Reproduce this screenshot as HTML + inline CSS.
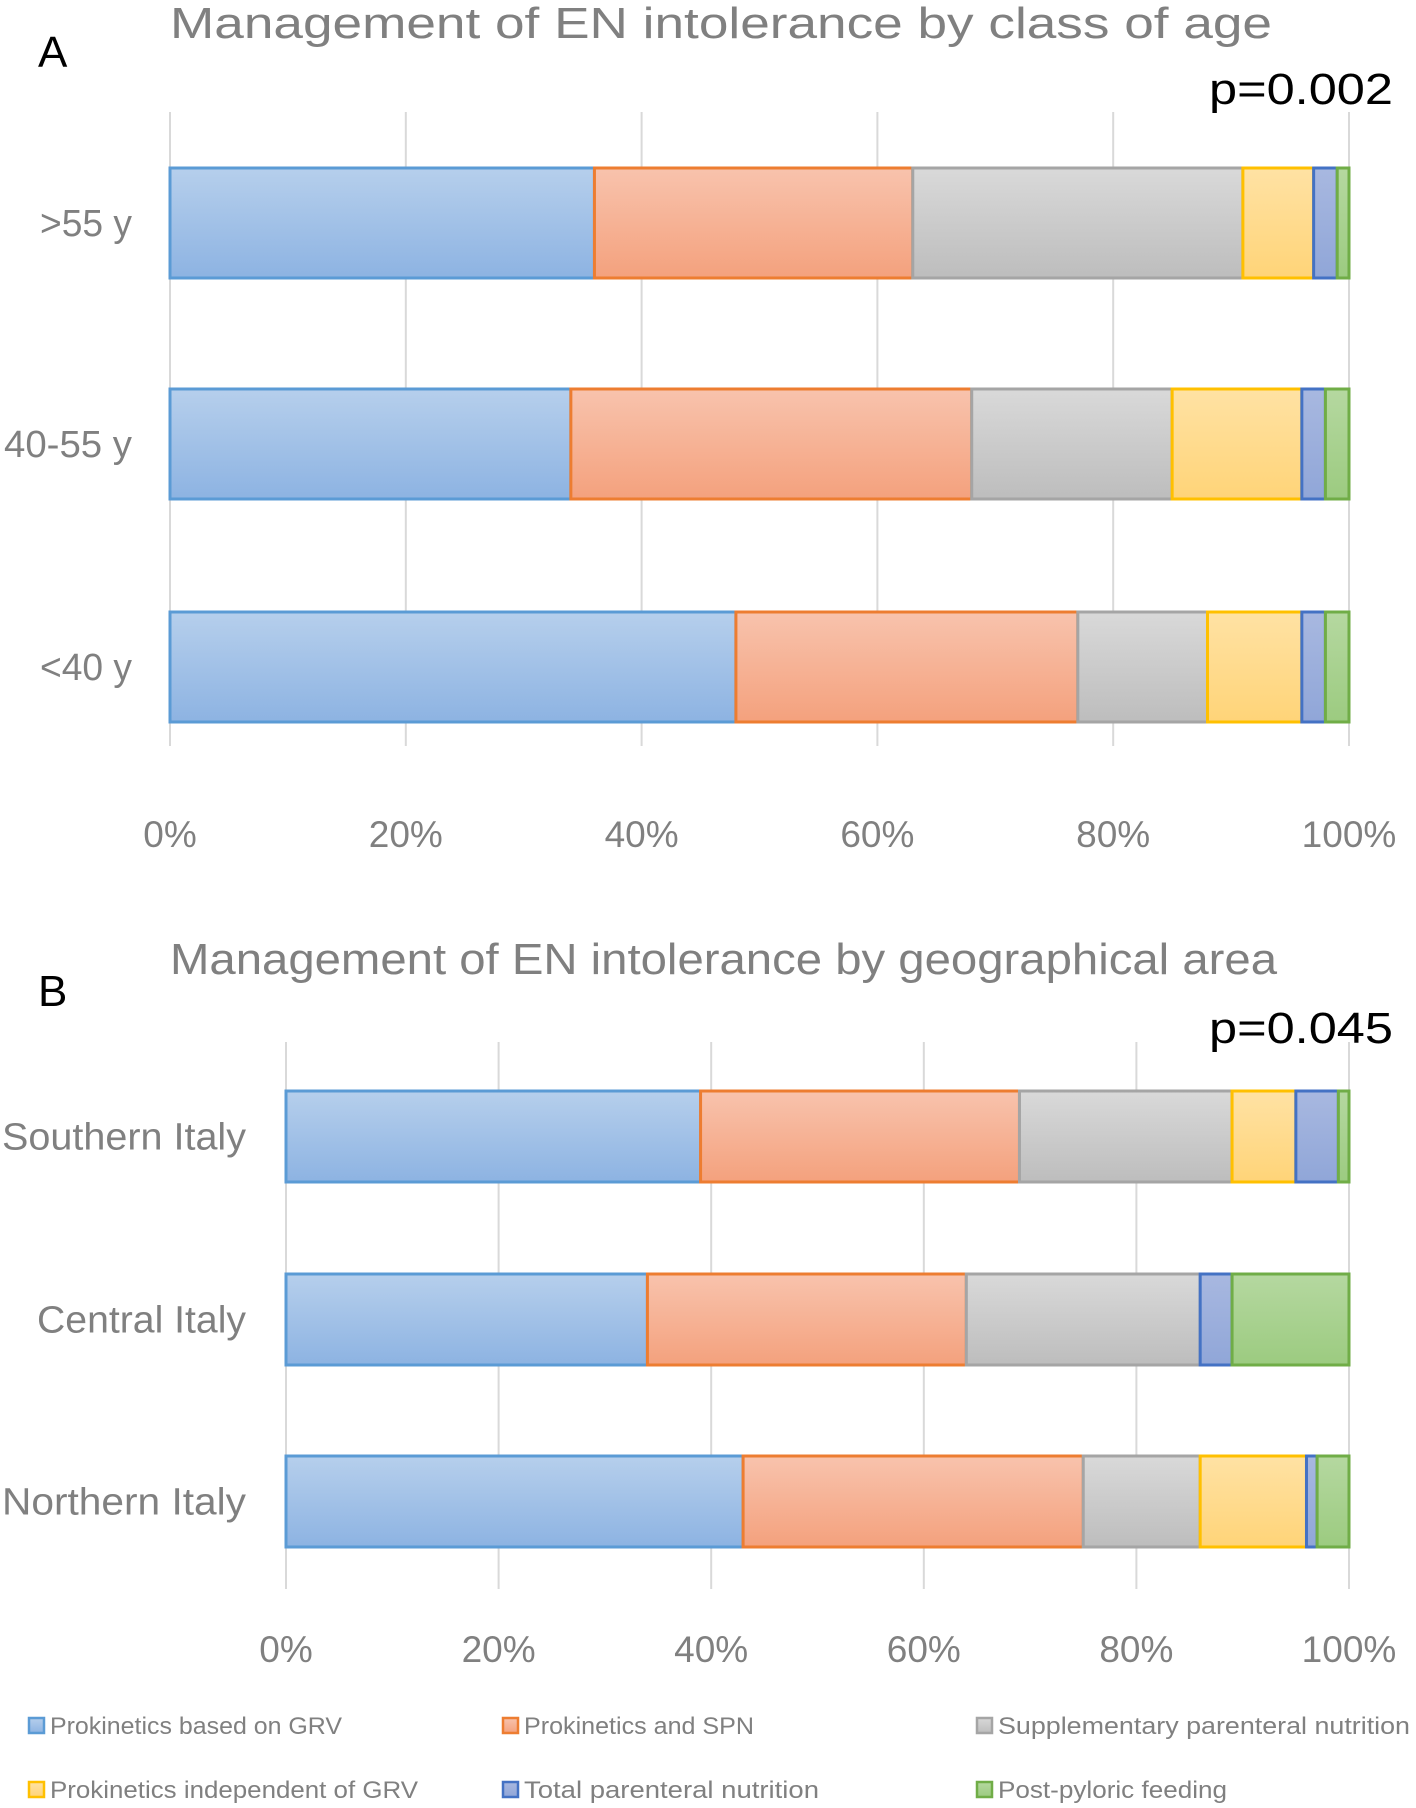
<!DOCTYPE html>
<html><head><meta charset="utf-8"><style>
html,body{margin:0;padding:0;background:#fff}
svg{display:block}
text{font-family:"Liberation Sans",sans-serif}
</style></head><body>
<svg id="chart" width="1416" height="1808" viewBox="0 0 1416 1808" xmlns="http://www.w3.org/2000/svg">
<defs>
<linearGradient id="g0" x1="0" y1="0" x2="0" y2="1"><stop offset="0" stop-color="#b6cfec"/><stop offset="1" stop-color="#8db3e2"/></linearGradient>
<linearGradient id="g1" x1="0" y1="0" x2="0" y2="1"><stop offset="0" stop-color="#f8c3ad"/><stop offset="1" stop-color="#f4a17d"/></linearGradient>
<linearGradient id="g2" x1="0" y1="0" x2="0" y2="1"><stop offset="0" stop-color="#d9d9d9"/><stop offset="1" stop-color="#bdbdbd"/></linearGradient>
<linearGradient id="g3" x1="0" y1="0" x2="0" y2="1"><stop offset="0" stop-color="#ffe2a4"/><stop offset="1" stop-color="#ffd478"/></linearGradient>
<linearGradient id="g4" x1="0" y1="0" x2="0" y2="1"><stop offset="0" stop-color="#a8b8e0"/><stop offset="1" stop-color="#90a6d8"/></linearGradient>
<linearGradient id="g5" x1="0" y1="0" x2="0" y2="1"><stop offset="0" stop-color="#b5d8a0"/><stop offset="1" stop-color="#9ccb80"/></linearGradient>
</defs>
<text x="38" y="67" font-size="44" fill="#000">A</text>
<text x="170" y="38" font-size="44" fill="#808080" textLength="1102" lengthAdjust="spacingAndGlyphs">Management of EN intolerance by class of age</text>
<text x="1209" y="104" font-size="44" fill="#000" textLength="184" lengthAdjust="spacingAndGlyphs">p=0.002</text>
<text x="38" y="1006" font-size="44" fill="#000">B</text>
<text x="170" y="974" font-size="44" fill="#808080" textLength="1107" lengthAdjust="spacingAndGlyphs">Management of EN intolerance by geographical area</text>
<text x="1209" y="1043" font-size="44" fill="#000" textLength="184" lengthAdjust="spacingAndGlyphs">p=0.045</text>
<g id="gA"></g><g id="gB"></g><g id="legend"></g>
</svg>
<script>
const seriesNames=["Prokinetics based on GRV","Prokinetics and SPN","Supplementary parenteral nutrition","Prokinetics independent of GRV","Total parenteral nutrition","Post-pyloric feeding"];
const tickLabels=["0%","20%","40%","60%","80%","100%"];
const ageCategories=[">55 y","40-55 y","<40 y"];
const ageGRV=[36,34,48];
const ageSPNpro=[27,34,29];
const ageSPN=[28,17,11];
const ageIndep=[6,11,8];
const ageTPN=[2,2,2];
const agePost=[1,2,2];
const areaCategories=["Southern Italy","Central Italy","Northern Italy"];
const areaGRV=[39,34,43];
const areaSPNpro=[30,30,32];
const areaSPN=[20,22,11];
const areaIndep=[6,0,10];
const areaTPN=[4,3,1];
const areaPost=[1,11,3];

const strokes=["#5b9bd5","#ed7d31","#a5a5a5","#ffc000","#4472c4","#70ad47"];
const labelWidths={">55 y":92,"40-55 y":128,"<40 y":92,"Southern Italy":244,"Central Italy":209,"Northern Italy":244};
const legendWidths=[292,230,412,368,295,229];
const NS="http://www.w3.org/2000/svg";
function mk(tag,attrs,parent){const e=document.createElementNS(NS,tag);for(const k in attrs)e.setAttribute(k,attrs[k]);parent.appendChild(e);return e;}

function drawChart(g,cfg,cats,series){
  const xs=v=>cfg.x0+(cfg.x1-cfg.x0)*v/100;
  tickLabels.forEach((t,i)=>{
    const v=i*20;
    const l=mk('line',{x1:xs(v),x2:xs(v),y1:cfg.gTop,y2:cfg.gBot,stroke:'#d9d9d9','stroke-width':2},g);
    
    
    const tx=mk('text',{x:xs(v),y:cfg.tickY,'font-size':37,fill:'#808080','text-anchor':'middle'},g);
    tx.textContent=t;
    
    
  });
  cats.forEach((c,ci)=>{
    const y=cfg.barY[ci];
    const lab=mk('text',{x:cfg.labX,y:y+cfg.barH/2+13,'font-size':38,fill:'#808080','text-anchor':'end',textLength:labelWidths[c],lengthAdjust:'spacingAndGlyphs'},g);
    lab.textContent=c;
    
    
    let acc=0;
    series.forEach((s,si)=>{
      const v=s[ci];
      if(v>0){
        const r=mk('rect',{x:xs(acc),y:y,width:xs(acc+v)-xs(acc),height:cfg.barH,fill:'url(#g'+si+')',stroke:strokes[si],'stroke-width':3},g);
        
        
      }
      acc+=v;
    });
  });
}
drawChart(document.getElementById('gA'),{x0:170,x1:1349,gTop:112,gBot:746,tickY:847,labX:132,barY:[168,389,612],barH:110},ageCategories,[ageGRV,ageSPNpro,ageSPN,ageIndep,ageTPN,agePost]);
drawChart(document.getElementById('gB'),{x0:286,x1:1349,gTop:1042,gBot:1589,tickY:1662,labX:246,barY:[1091,1274,1456],barH:91},areaCategories,[areaGRV,areaSPNpro,areaSPN,areaIndep,areaTPN,areaPost]);

const lg=document.getElementById('legend');
const legX=[29,503,977], legY=[1726,1790];
seriesNames.forEach((n,i)=>{
  const x=legX[i%3], y=legY[Math.floor(i/3)];
  const r=mk('rect',{x:x,y:y-8,width:15,height:15,fill:'url(#g'+i+')',stroke:strokes[i],'stroke-width':2.5},lg);
  
  
  const t=mk('text',{x:x+21,y:y+8,'font-size':24,fill:'#808080',textLength:legendWidths[i],lengthAdjust:'spacingAndGlyphs'},lg);
  t.textContent=n;
  
  
});
</script>
</body></html>
